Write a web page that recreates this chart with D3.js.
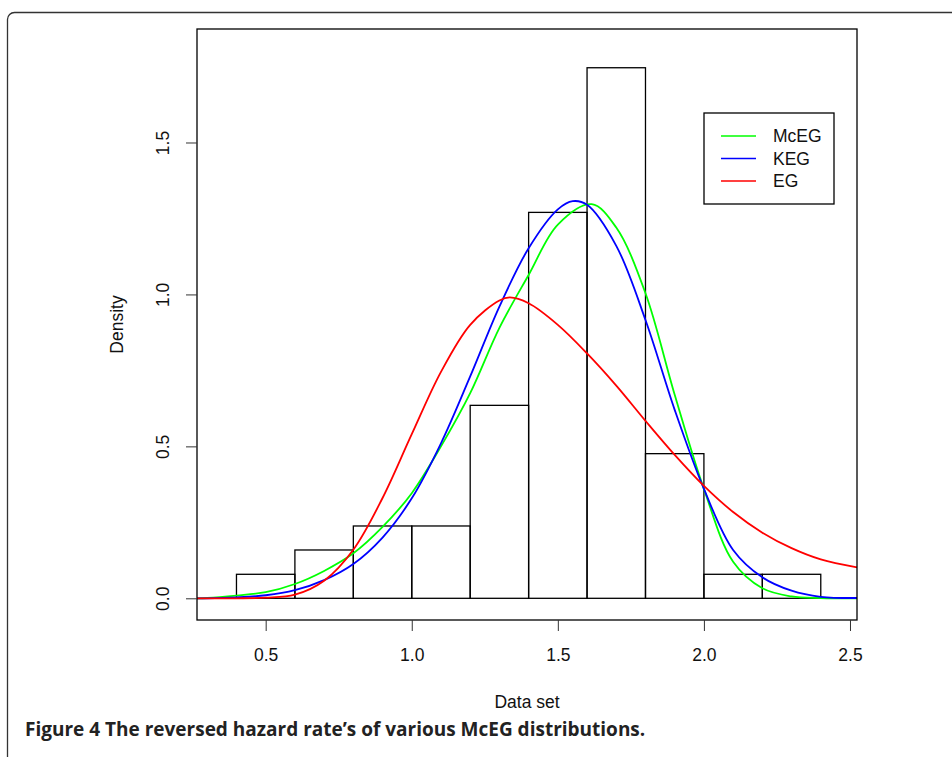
<!DOCTYPE html>
<html>
<head>
<meta charset="utf-8">
<script src="https://cdn.jsdelivr.net/npm/d3@7"></script>
<style>
  body { margin: 0; background: #fff; }
  svg { display: block; }
  .tick text { font-family: "Liberation Sans", Arial, sans-serif; font-size: 17.5px; fill: #111; }
</style>
</head>
<body>
<svg id="chart" width="952" height="757"></svg>
<script>
// histogram (glass fibre data, n = 63), bin edges and densities
var binEdges = [0.4, 0.6, 0.8, 1.0, 1.2, 1.4, 1.6, 1.8, 2.0, 2.2, 2.4];
var densities = [0.079, 0.159, 0.238, 0.238, 0.635, 1.27, 1.746, 0.476, 0.079, 0.079];

// fitted density curves
var mcegX = [0.265, 0.3, 0.4, 0.5, 0.6, 0.7, 0.8, 0.9, 1.0, 1.1, 1.2, 1.3, 1.4, 1.5, 1.616, 1.7, 1.8, 1.9, 2.0, 2.1, 2.2, 2.3, 2.4, 2.524];
var mcegY = [0.0, 0.001, 0.009, 0.02, 0.047, 0.09, 0.148, 0.235, 0.346, 0.5, 0.675, 0.89, 1.064, 1.23, 1.297, 1.22, 1.004, 0.67, 0.36, 0.12, 0.033, 0.006, 0.001, 0.0];

var kegX = [0.265, 0.3, 0.4, 0.5, 0.6, 0.7, 0.8, 0.9, 1.0, 1.1, 1.2, 1.3, 1.4, 1.5, 1.551, 1.6, 1.7, 1.8, 1.9, 2.0, 2.1, 2.2, 2.3, 2.4, 2.524];
var kegY = [0.0, 0.0, 0.003, 0.01, 0.027, 0.06, 0.113, 0.2, 0.329, 0.51, 0.73, 0.96, 1.152, 1.28, 1.307, 1.295, 1.16, 0.916, 0.62, 0.36, 0.159, 0.069, 0.025, 0.005, 0.001];

var egX = [0.265, 0.3, 0.4, 0.5, 0.6, 0.7, 0.8, 0.9, 1.0, 1.1, 1.2, 1.3, 1.336, 1.4, 1.5, 1.6, 1.7, 1.8, 1.9, 2.0, 2.1, 2.2, 2.3, 2.4, 2.524];
var egY = [0.0, 0.0, 0.0, 0.002, 0.012, 0.058, 0.16, 0.33, 0.54, 0.745, 0.9, 0.98, 0.99, 0.971, 0.9, 0.806, 0.7, 0.584, 0.472, 0.37, 0.284, 0.216, 0.165, 0.128, 0.102];

var seriesNames = ["McEG", "KEG", "EG"];
var seriesColors = ["#00ff00", "#0000ff", "#ff0000"];
var xTicks = [0.5, 1.0, 1.5, 2.0, 2.5];
var yTicks = [0.0, 0.5, 1.0, 1.5];

var svg = d3.select("#chart");
var box = { left: 197, right: 857, top: 29, bottom: 620 };

var x = d3.scaleLinear().domain([0.2649, 2.524]).range([box.left, box.right]);
var y = d3.scaleLinear().domain([-0.0714, 1.8735]).range([box.bottom, box.top]);

// outer figure frame
svg.append("rect")
    .attr("x", 7.5).attr("y", 12.5)
    .attr("width", 960).attr("height", 770)
    .attr("rx", 7)
    .attr("fill", "none").attr("stroke", "#333").attr("stroke-width", 1.3);

// histogram bars
var bars = densities.map(function(d, i) { return { x0: binEdges[i], x1: binEdges[i + 1], d: d }; });
svg.append("g").selectAll("rect")
    .data(bars)
    .enter().append("rect")
    .attr("x", d => x(d.x0))
    .attr("y", d => y(d.d))
    .attr("width", d => x(d.x1) - x(d.x0))
    .attr("height", d => y(0) - y(d.d))
    .attr("fill", "none")
    .attr("stroke", "#000")
    .attr("stroke-width", 1.3);

// curves
var curves = [
    { name: seriesNames[0], xs: mcegX, ys: mcegY, color: seriesColors[0] },
    { name: seriesNames[1], xs: kegX, ys: kegY, color: seriesColors[1] },
    { name: seriesNames[2], xs: egX, ys: egY, color: seriesColors[2] }
];
var line = d3.line()
    .x(d => x(d[0]))
    .y(d => y(Math.max(0, d[1])))
    .curve(d3.curveCatmullRom.alpha(0.5));

svg.append("g").selectAll("path")
    .data(curves)
    .enter().append("path")
    .attr("d", c => line(c.xs.map((v, i) => [v, c.ys[i]])))
    .attr("fill", "none")
    .attr("stroke", c => c.color)
    .attr("stroke-width", 1.8);

// plot box
svg.append("rect")
    .attr("x", box.left).attr("y", box.top)
    .attr("width", box.right - box.left).attr("height", box.bottom - box.top)
    .attr("fill", "none").attr("stroke", "#000").attr("stroke-width", 1.3);

// axes
var xAxis = svg.append("g")
    .attr("transform", "translate(0," + box.bottom + ")")
    .call(d3.axisBottom(x).tickValues(xTicks).tickFormat(d3.format(".1f")).tickSize(11).tickPadding(18));
xAxis.select(".domain").remove();
xAxis.selectAll(".tick line").attr("stroke", "#333");

var yAxis = svg.append("g")
    .attr("transform", "translate(" + box.left + ",0)")
    .call(d3.axisLeft(y).tickValues(yTicks).tickFormat(d3.format(".1f")).tickSize(11));
yAxis.select(".domain").remove();
yAxis.selectAll(".tick line").attr("stroke", "#333");
yAxis.selectAll(".tick text")
    .attr("x", 0).attr("dy", null)
    .attr("text-anchor", "middle")
    .attr("dominant-baseline", "central")
    .attr("transform", "translate(-34,0) rotate(-90)");

// axis titles
svg.append("text")
    .attr("x", (box.left + box.right) / 2).attr("y", 702)
    .attr("text-anchor", "middle").attr("dominant-baseline", "central")
    .attr("font-family", "Liberation Sans, Arial, sans-serif").attr("font-size", 17.5)
    .attr("fill", "#111")
    .text("Data set");

svg.append("text")
    .attr("transform", "translate(117," + ((box.top + box.bottom) / 2) + ") rotate(-90)")
    .attr("text-anchor", "middle").attr("dominant-baseline", "central")
    .attr("font-family", "Liberation Sans, Arial, sans-serif").attr("font-size", 17.5)
    .attr("fill", "#111")
    .text("Density");

// legend
var legend = svg.append("g");
legend.append("rect")
    .attr("x", 704).attr("y", 113).attr("width", 130).attr("height", 91)
    .attr("fill", "#fff").attr("stroke", "#000").attr("stroke-width", 1.3);
curves.forEach(function(c, i) {
    var ly = 136 + i * 22.5;
    legend.append("line")
        .attr("x1", 721).attr("x2", 756).attr("y1", ly).attr("y2", ly)
        .attr("stroke", c.color).attr("stroke-width", 1.3);
    legend.append("text")
        .attr("x", 773).attr("y", ly)
        .attr("dominant-baseline", "central")
        .attr("font-family", "Liberation Sans, Arial, sans-serif").attr("font-size", 17.5)
        .attr("fill", "#111")
        .text(c.name);
});

// caption
svg.append("text")
    .attr("x", 25).attr("y", 729)
    .attr("dominant-baseline", "central")
    .attr("font-family", "Open Sans, Noto Sans, sans-serif").attr("font-weight", 700)
    .attr("font-size", 19)
    .attr("fill", "#222")
    .text("Figure 4 The reversed hazard rate\u2019s of various McEG distributions.");
</script>
</body>
</html>
